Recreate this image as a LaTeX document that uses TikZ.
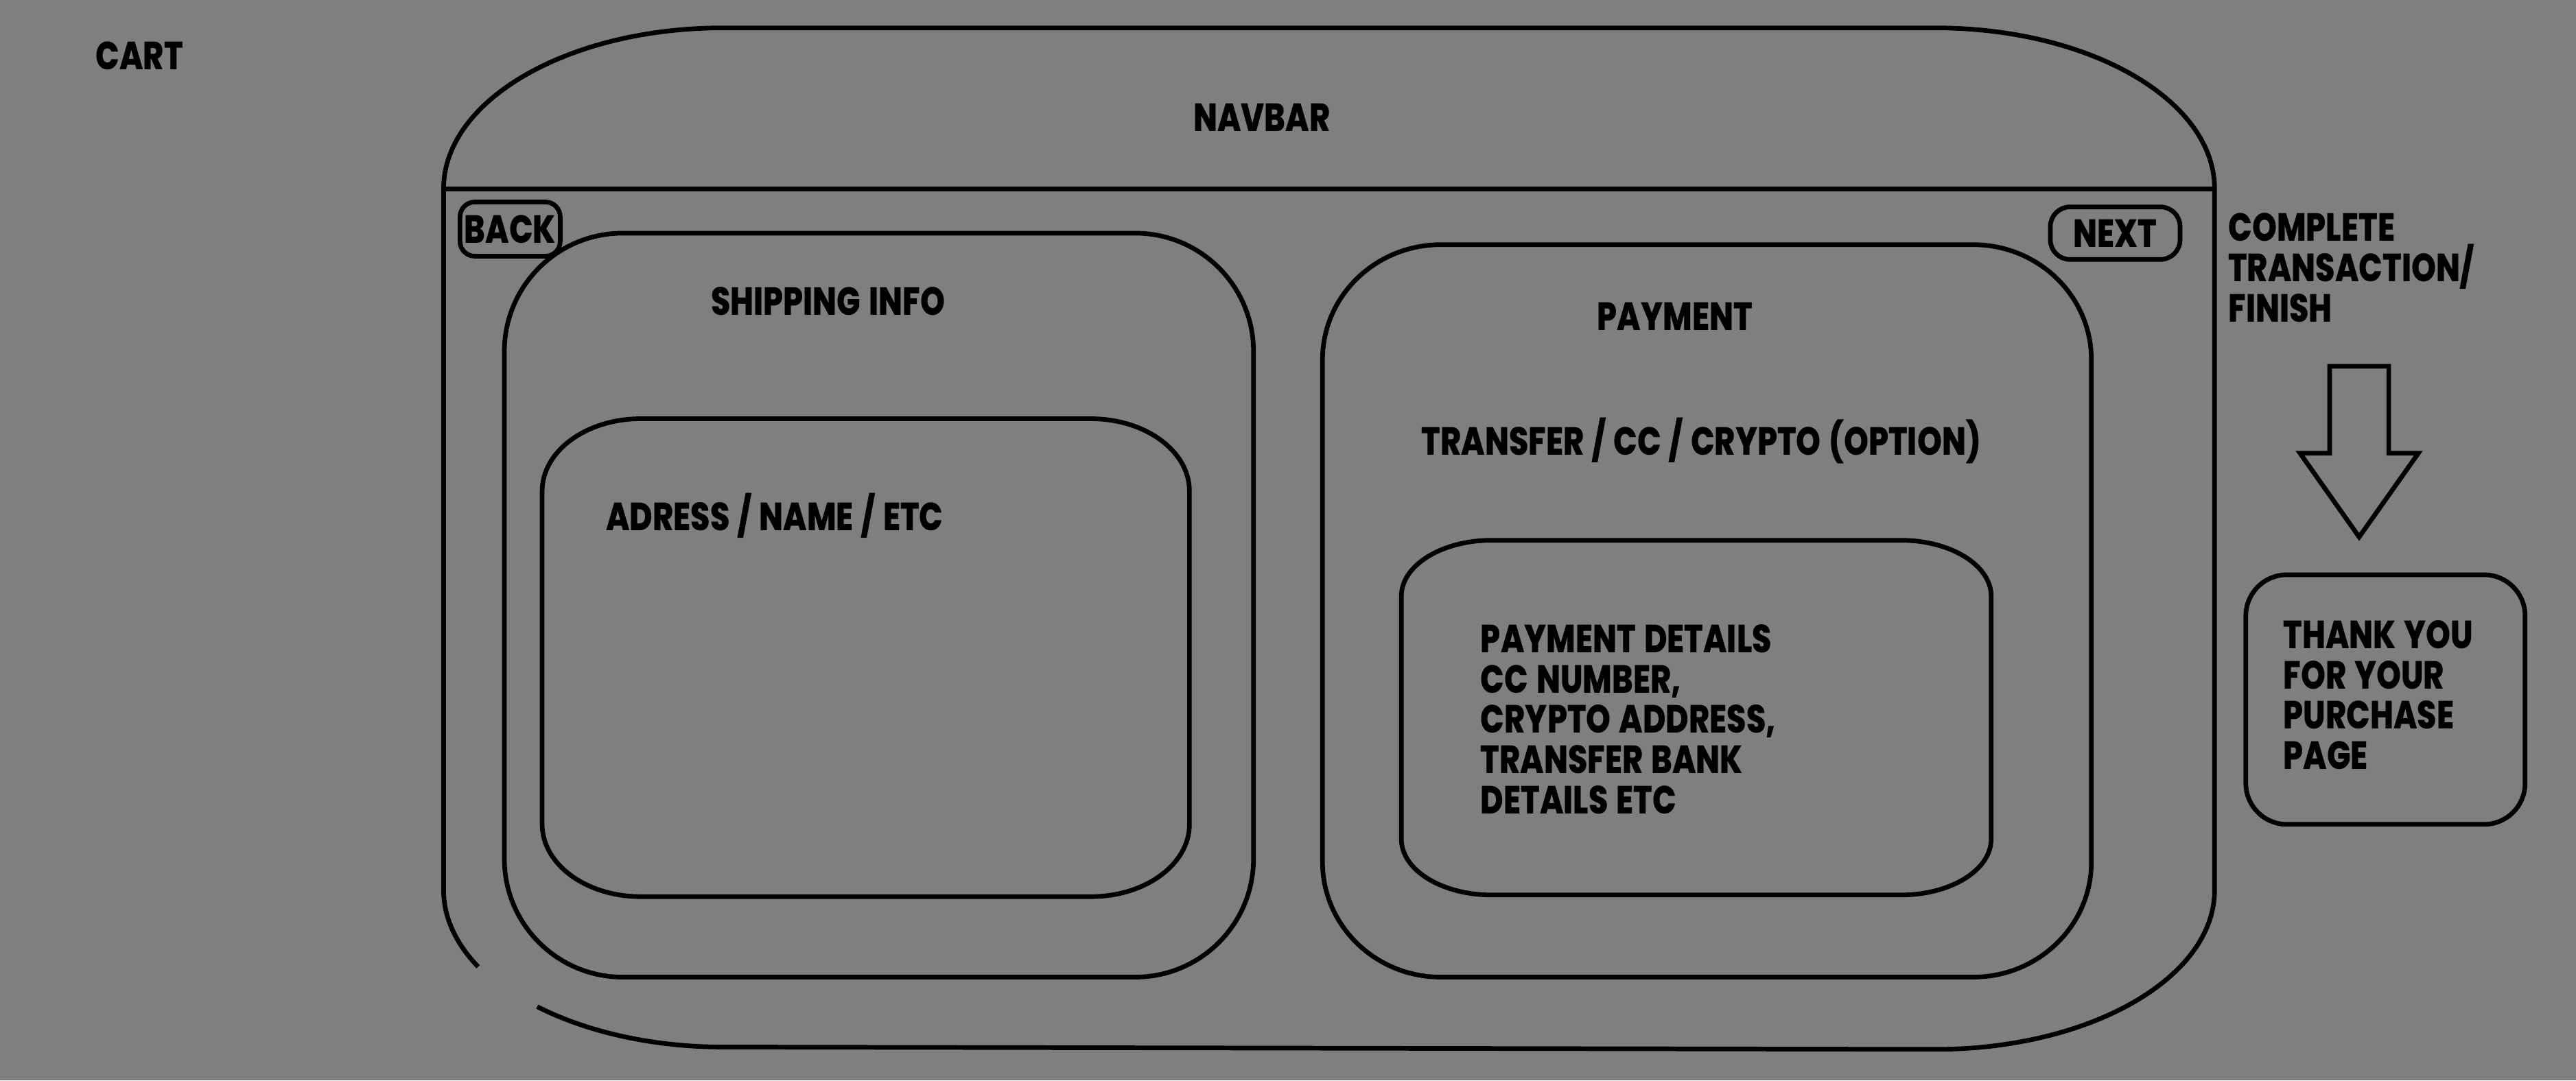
\documentclass[tikz,border=0pt]{standalone}
\usepackage{fontspec}
\newfontfamily\lblfont{Poppins}[UprightFont={* ExtraBold}, FakeStretch=0.80, WordSpace=1.35]
\definecolor{bggray}{RGB}{127,127,127}
\newcommand\elbox[6]{%
  \draw[wire] ({#1+#5},{-#2}) -- ({#3-#5},{-#2})
    arc[start angle=90, end angle=0, x radius=#5, y radius=#6]
    -- ({#3},{-#4+#6})
    arc[start angle=0, end angle=-90, x radius=#5, y radius=#6]
    -- ({#1+#5},{-#4})
    arc[start angle=270, end angle=180, x radius=#5, y radius=#6]
    -- ({#1},{-#2-#6})
    arc[start angle=180, end angle=90, x radius=#5, y radius=#6] -- cycle;}
\tikzset{
  wire/.style={draw=black, line width=1.6pt, line join=round},
  lbl/.style={font=\lblfont\fontsize{13.6}{13.95}\selectfont, inner sep=0pt, text=black},
  btn/.style={wire, lbl, inner sep=0pt}
}
\begin{document}
\begin{tikzpicture}[x=0.02cm, y=0.02cm]
\fill[bggray] (0,0) rectangle (1568,-658);
\useasboundingbox (0,0) rectangle (1568,-658);

% outer frame with gap at lower left
\draw[wire] (327,-613) arc[start angle=228.3, end angle=270, x radius=170, y radius=97]
  -- (1178,-639) arc[start angle=270, end angle=360, x radius=170, y radius=97]
  -- (1348,-115) arc[start angle=0, end angle=90, x radius=170, y radius=98]
  -- (440,-17) arc[start angle=90, end angle=180, x radius=170, y radius=98]
  -- (270,-542) arc[start angle=180, end angle=208.8, x radius=170, y radius=97];
\draw[wire] (270,-115) -- (1348,-115);

% panels
\elbox{307}{142}{763}{595}{72}{72}
\elbox{330}{255}{724}{546}{60}{44}
\elbox{805}{149}{1273}{595}{72}{70}
\elbox{853}{329}{1212}{545}{55}{34}

% thank you box
\draw[wire, rounded corners=0.5cm] (1367,-350) rectangle (1537,-502);

% arrow
\draw[wire, line join=miter] (1418,-223) -- (1454,-223) -- (1454,-276) -- (1472,-276)
  -- (1436,-327) -- (1400,-276) -- (1418,-276) -- cycle;

% buttons
\node[btn, rounded corners=0.18cm, minimum width=1.22cm, minimum height=0.66cm] (back) at (310.5,-139.5) {BACK};
\node[btn, rounded corners=0.24cm, minimum width=1.58cm, minimum height=0.64cm] (next) at (1287.5,-142) {NEXT};

% labels
\node[lbl, anchor=north west] (cart) at (58,-25) {CART};
\node[lbl, anchor=base] (navbar) at (768,-80) {NAVBAR};
\node[lbl, anchor=base] (ship) at (504,-192) {SHIPPING INFO};
\node[lbl, anchor=base] (addr) at (471.5,-323) {ADRESS / NAME / ETC};
\node[lbl, anchor=base] (pay) at (1019.5,-201) {PAYMENT};
\node[lbl, anchor=base] (opt) at (1035.5,-277) {TRANSFER / CC / CRYPTO (OPTION)};
\node[lbl, anchor=north west, align=left] (details) at (901,-380)
  {PAYMENT DETAILS\\CC NUMBER,\\CRYPTO ADDRESS,\\TRANSFER BANK\\DETAILS ETC};
\node[lbl, anchor=north west, align=left] (complete) at (1356,-129.5)
  {COMPLETE\\TRANSACTION/\\FINISH};
\node[lbl, anchor=north west, align=left] (thanks) at (1389.5,-377.5)
  {THANK YOU\\FOR YOUR\\PURCHASE\\PAGE};
\end{tikzpicture}
\end{document}
